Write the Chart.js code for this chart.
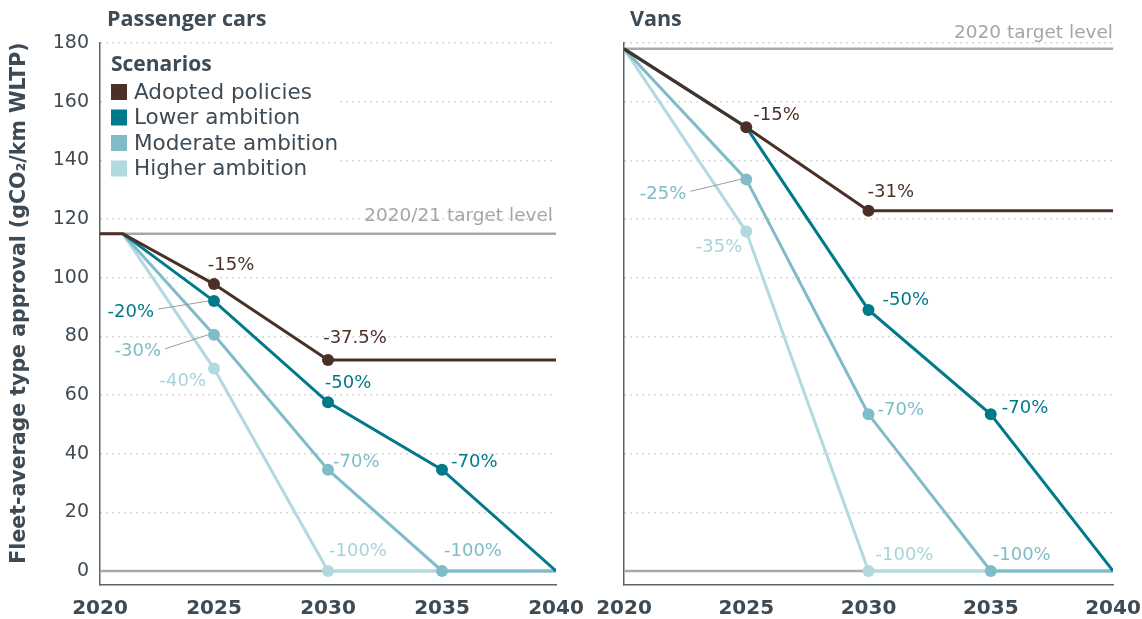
<!DOCTYPE html>
<html>
<head>
<meta charset="utf-8">
<script src="https://cdn.jsdelivr.net/npm/chart.js@4.4.1/dist/chart.umd.min.js"></script>
<style>
body { margin: 0; background: #fff; }
#wrap { position: relative; width: 1142px; height: 619px; }
canvas { position: absolute; top: 0; }
#cars { left: 0; }
#vans { left: 580px; }
</style>
</head>
<body>
<div id="wrap">
  <canvas id="cars" width="600" height="619"></canvas>
  <canvas id="vans" width="562" height="619"></canvas>
</div>
<script>
const years = [2020, 2021, 2025, 2030, 2035, 2040];
const yTicks = [0, 20, 40, 60, 80, 100, 120, 140, 160, 180];
const scenarios = ['Adopted policies', 'Lower ambition', 'Moderate ambition', 'Higher ambition'];

// passenger cars (gCO2/km WLTP)
const carsAdopted  = [115, 115, 97.8, 71.9, 71.9, 71.9];
const carsLower    = [null, 115, 92, 57.5, 34.5, 0];
const carsModerate = [null, 115, 80.5, 34.5, 0, 0];
const carsHigher   = [null, 115, 69, 0, 0, 0];
const carsAdoptedPct  = [null, null, '-15%', '-37.5%', null, null];
const carsLowerPct    = [null, null, '-20%', '-50%', '-70%', null];
const carsModeratePct = [null, null, '-30%', '-70%', '-100%', null];
const carsHigherPct   = [null, null, '-40%', '-100%', null, null];
const carsTarget = 115;

// vans
const vansAdopted  = [178, null, 151.3, 122.8, 122.8, 122.8];
const vansLower    = [178, null, 151.3, 89, 53.4, 0];
const vansModerate = [178, null, 133.5, 53.4, 0, 0];
const vansHigher   = [178, null, 115.7, 0, 0, 0];
const vansAdoptedPct  = [null, null, '-15%', '-31%', null, null];
const vansLowerPct    = [null, null, null, '-50%', '-70%', null];
const vansModeratePct = [null, null, '-25%', '-70%', '-100%', null];
const vansHigherPct   = [null, null, '-35%', '-100%', null, null];
const vansTarget = 178;

const colors = ['#4a3027', '#007a8b', '#7fbcc7', '#b2d9df'];
const pctColors = ['#4a3027', '#007a8b', '#7fbcc7', '#a9d3da'];
const grey = '#a7a9ac';
const ink = '#3e4a54';
const FONT = "'DejaVu Sans', 'Noto Sans', sans-serif";
const HEAD = "'Open Sans', 'Noto Sans', sans-serif";

function toXY(vals) {
    return years.map((x, i) => ({ x: x, y: vals[i] }));
}

function series(vals, pct, i) {
    return {
        label: scenarios[i],
        data: toXY(vals),
        pct: pct,
        borderColor: colors[i],
        backgroundColor: colors[i],
        borderWidth: 3,
        tension: 0,
        spanGaps: true,
        pointRadius: ctx => (ctx.dataset.pct[ctx.dataIndex] ? 6 : 0),
        pointBorderWidth: 0,
        pointBackgroundColor: colors[i],
        pointHoverRadius: 0
    };
}

function refLine(value) {
    return {
        label: 'ref',
        data: [{ x: 2020, y: value }, { x: 2040, y: value }],
        borderColor: grey,
        borderWidth: 2.5,
        pointRadius: 0,
        tension: 0
    };
}

// titles, legend and point labels
const marks = {
    id: 'marks',
    beforeDatasetsDraw(chart, args, o) {
        if (!o.legend) return;
        const ctx = chart.ctx;
        const a = chart.chartArea;
        ctx.save();
        ctx.fillStyle = '#fff';
        ctx.fillRect(a.left + 2, 50, 235, 130);
        ctx.fillStyle = ink;
        ctx.textBaseline = 'middle';
        ctx.font = 'bold 21px ' + HEAD;
        ctx.fillText('Scenarios', 111, 65);
        ctx.font = '21.5px ' + FONT;
        scenarios.forEach((s, i) => {
            const y = 92 + i * 25.5;
            ctx.fillStyle = colors[i];
            ctx.fillRect(111, y - 8, 16, 16);
            ctx.fillStyle = ink;
            ctx.fillText(s, 134, y + 1);
        });

        // y axis title
        ctx.save();
        ctx.translate(20, 303);
        ctx.rotate(-Math.PI / 2);
        ctx.textAlign = 'center';
        ctx.font = 'bold 20.5px ' + FONT;
        ctx.fillText('Fleet-average type approval (gCO\u2082/km WLTP)', 0, 0);
        ctx.restore();
        ctx.restore();
    },
    afterDatasetsDraw(chart, args, o) {
        const ctx = chart.ctx;
        const a = chart.chartArea;
        const ys = chart.scales.y;
        ctx.save();
        ctx.textBaseline = 'middle';
        ctx.font = 'bold 21.5px ' + HEAD;
        ctx.fillStyle = ink;
        ctx.textAlign = 'left';
        ctx.fillText(o.title, o.titleX, 20);

        ctx.font = '18.5px ' + FONT;
        ctx.fillStyle = '#a3a6a9';
        ctx.textAlign = 'right';
        ctx.fillText(o.targetText, a.right - o.targetDx, ys.getPixelForValue(o.target) + o.targetDy);

        chart.data.datasets.forEach((ds, di) => {
            if (!ds.pct) return;
            const meta = chart.getDatasetMeta(di);
            ds.pct.forEach((t, pi) => {
                if (!t) return;
                const p = o.place[di + ':' + pi];
                const pt = meta.data[pi];
                const tx = pt.x + p[0];
                const ty = pt.y + p[1];
                if (p[3]) {
                    ctx.strokeStyle = '#9a9c9f';
                    ctx.lineWidth = 1;
                    ctx.beginPath();
                    ctx.moveTo(tx + 4, ty - 3);
                    ctx.lineTo(pt.x - 6, pt.y);
                    ctx.stroke();
                }
                ctx.font = '18px ' + FONT;
                ctx.fillStyle = pctColors[di];
                ctx.textAlign = p[2];
                ctx.fillText(t, tx, ty);
            });
        });
        ctx.restore();
    }
};

function makeOptions(side) {
    const left = side === 'cars';
    return {
        responsive: false,
        animation: false,
        events: [],
        layout: { padding: { left: 0, right: left ? 44 : 29, top: 43, bottom: 0 } },
        plugins: {
            legend: { display: false },
            tooltip: { enabled: false },
            marks: left ? {
                title: 'Passenger cars', titleX: 107, legend: true,
                target: carsTarget, targetText: '2020/21 target level', targetDx: 3, targetDy: -17,
                place: {
                    '0:2': [17, -19, 'center'], '0:3': [27, -22, 'center'],
                    '1:2': [-60, 11, 'right', true], '1:3': [20, -19, 'center'], '1:4': [9, -7, 'left'],
                    '2:2': [-53, 17, 'right', true], '2:3': [5, -7, 'left'], '2:4': [2, -20, 'left'],
                    '3:2': [-8, 13, 'right'], '3:3': [1, -20, 'left']
                }
            } : {
                title: 'Vans', titleX: 50, legend: false,
                target: vansTarget, targetText: '2020 target level', targetDx: 0, targetDy: -16,
                place: {
                    '0:2': [7, -12, 'left'], '0:3': [-1, -18, 'left'],
                    '1:3': [14, -10, 'left'], '1:4': [11, -6, 'left'],
                    '2:2': [-60, 15, 'right', true], '2:3': [9, -4, 'left'], '2:4': [2, -16, 'left'],
                    '3:2': [-4, 16, 'right'], '3:3': [7, -16, 'left']
                }
            }
        },
        scales: {
            x: {
                type: 'linear',
                min: 2020,
                max: 2040,
                ticks: {
                    stepSize: 5,
                    padding: 12,
                    color: ink,
                    font: { family: FONT, size: 20, weight: 'bold' },
                    callback: v => String(v)
                },
                grid: { display: false, drawTicks: false },
                border: { color: '#5b646c', width: 1.5 },
                afterFit: s => {
                    s.height = 34;
                    s.paddingLeft = 0;
                    s.paddingRight = 0;
                }
            },
            y: {
                min: -4.8,
                max: 180,
                afterBuildTicks: s => { s.ticks = yTicks.map(v => ({ value: v })); },
                ticks: {
                    display: left,
                    padding: 11,
                    color: ink,
                    font: { family: FONT, size: 19 }
                },
                grid: { color: '#c9cbcd', lineWidth: 1.5, drawTicks: false },
                border: { color: '#5b646c', width: 1.5, dash: [1.5, 4.5] },
                afterFit: s => { s.width = left ? 100 : 44; }
            }
        }
    };
}

new Chart(document.getElementById('cars'), {
    type: 'line',
    data: {
        datasets: [
            series(carsAdopted, carsAdoptedPct, 0),
            series(carsLower, carsLowerPct, 1),
            series(carsModerate, carsModeratePct, 2),
            series(carsHigher, carsHigherPct, 3),
            refLine(carsTarget),
            refLine(0)
        ]
    },
    options: makeOptions('cars'),
    plugins: [marks]
});

new Chart(document.getElementById('vans'), {
    type: 'line',
    data: {
        datasets: [
            series(vansAdopted, vansAdoptedPct, 0),
            series(vansLower, vansLowerPct, 1),
            series(vansModerate, vansModeratePct, 2),
            series(vansHigher, vansHigherPct, 3),
            refLine(vansTarget),
            refLine(0)
        ]
    },
    options: makeOptions('vans'),
    plugins: [marks]
});
</script>
</body>
</html>
